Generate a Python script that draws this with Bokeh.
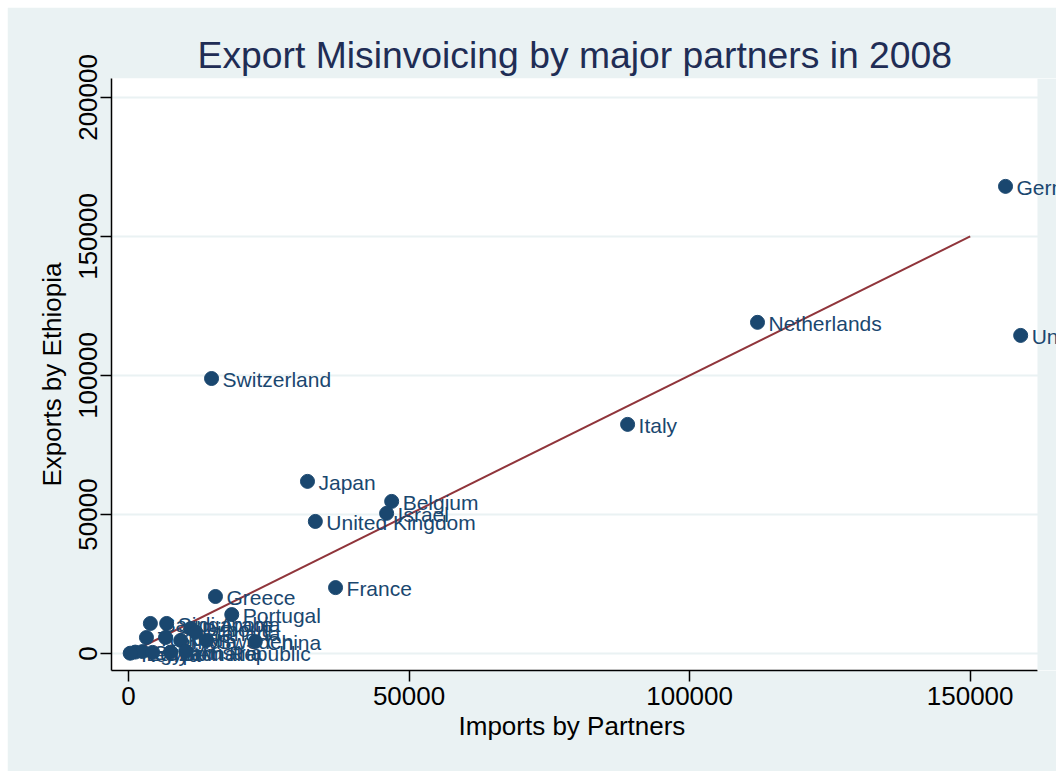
from bokeh.plotting import figure
from bokeh.models import (ColumnDataSource, Range1d, FixedTicker, Title, NumeralTickFormatter,
                          Spacer, Label, BoxAnnotation)
from bokeh.layouts import column, row
from bokeh.embed import file_html
from bokeh.resources import INLINE

# ---- data ----
countries = [
    "Germany", "United States", "Netherlands", "Switzerland", "Italy", "Japan",
    "Belgium", "Israel", "United Kingdom", "France", "Greece", "Portugal",
    "Saudi Arabia", "Singapore", "Djibouti", "Canada", "Turkey", "Spain",
    "India", "Sweden", "China", "Egypt", "Sudan", "Czech Republic",
    "Somalia", "Austria", "Kenya",
]
imports_by_partners = [
    156300, 159000, 112100, 14800, 88950, 31900,
    46900, 46000, 33300, 36900, 15500, 18400,
    3900, 6800, 11100, 12000, 3200, 6600,
    9300, 13900, 22600, 1200, 2500, 4300,
    7500, 10200, 300,
]
exports_by_ethiopia = [
    168000, 114400, 119100, 98900, 82400, 61900,
    54700, 50400, 47500, 23700, 20500, 14000,
    10800, 10800, 9000, 7600, 5750, 5750,
    4700, 4700, 4300, 500, 700, 400,
    500, 800, 100,
]
line_x = [0, 150000]
line_y = [0, 150000]
x_ticks = [0, 50000, 100000, 150000]
y_ticks = [0, 50000, 100000, 150000, 200000]
x_min, x_max = -3030, 162000
y_min, y_max = -6115, 206800

FONT = "Liberation Sans"
BG = "#eaf2f3"
NAVY = "#1a476f"

src = ColumnDataSource(dict(x=imports_by_partners, y=exports_by_ethiopia, name=countries))

# the frame is widened to the right page edge so that clipped labels run to the edge;
# the part right of x_max is painted with the page colour
x_extra = (x_max - x_min) / 926 * 19
p = figure(width=1049, height=764, output_backend="svg", toolbar_location=None,
           x_range=Range1d(x_min, x_max + x_extra), y_range=Range1d(y_min, y_max),
           min_border_left=104, min_border_right=0, min_border_top=71, min_border_bottom=101)

p.background_fill_color = "white"
p.border_fill_color = BG
p.outline_line_color = None

p.title = Title(text="Export Misinvoicing by major partners in 2008")
p.title.align = "left"
p.title.offset = 86
p.title.text_font = FONT
p.title.text_font_size = "37.3px"
p.title.text_font_style = "normal"
p.title.text_color = "#1f2d55"
p.title.standoff = 6

p.line(line_x, line_y, line_color="#90353b", line_width=2)
p.scatter("x", "y", source=src, size=14, fill_color=NAVY, line_color=NAVY)
p.add_layout(BoxAnnotation(left=x_max, fill_color=BG, fill_alpha=1, line_color=None))
for xv, yv, name in zip(imports_by_partners, exports_by_ethiopia, countries):
    p.add_layout(Label(x=xv, y=yv, text=name, x_offset=11, y_offset=-1,
                       text_baseline="middle", text_align="left", text_font=FONT,
                       text_font_size="21px", text_color=NAVY))

p.xgrid.visible = False
p.ygrid.grid_line_color = BG
p.ygrid.grid_line_width = 2
p.ygrid.ticker = FixedTicker(ticks=y_ticks)

for ax in (p.xaxis[0], p.yaxis[0]):
    ax.axis_line_color = "black"
    ax.axis_line_width = 1.5
    ax.major_tick_line_color = "black"
    ax.major_tick_line_width = 1.5
    ax.major_tick_out = 11
    ax.major_tick_in = 0
    ax.minor_tick_line_color = None
    ax.major_label_text_font = FONT
    ax.major_label_text_font_size = "26px"
    ax.major_label_text_color = "black"
    ax.axis_label_text_font = FONT
    ax.axis_label_text_font_size = "26px"
    ax.axis_label_text_font_style = "normal"
    ax.axis_label_text_color = "black"
    ax.formatter = NumeralTickFormatter(format="0")

p.xaxis.bounds = (x_min, x_max)
p.xaxis.ticker = FixedTicker(ticks=x_ticks)
p.yaxis.ticker = FixedTicker(ticks=y_ticks)
p.yaxis.axis_label = "Exports by Ethiopia"
p.yaxis.major_label_orientation = "vertical"
p.xaxis.major_label_standoff = 5
p.yaxis.major_label_standoff = 3
p.yaxis.axis_label_standoff = 10

# x-axis title, centred under the original plot region
xtitle = Title(text="Imports by Partners", align="left", offset=347, text_font=FONT,
               text_font_size="26px", text_font_style="normal", text_color="black",
               standoff=2)
p.add_layout(xtitle, "below")

layout = column(Spacer(height=7), row(Spacer(width=7), p))

open("out.html", "w").write(file_html(layout, INLINE))
